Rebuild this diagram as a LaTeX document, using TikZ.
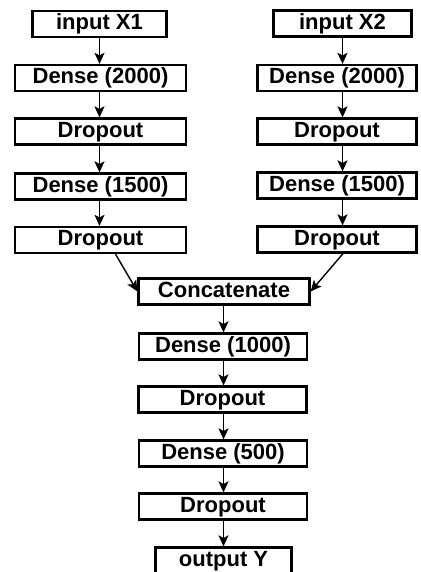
\documentclass[tikz,border=0pt]{standalone}
\usepackage{fontspec}
\setmainfont{Liberation Sans}
\usetikzlibrary{arrows.meta}
\begin{document}
\begin{tikzpicture}[x=1pt,y=-1pt,
  box/.style={draw, line width=2.2pt, inner sep=0pt, minimum height=26pt,
    text height=16pt, text depth=4.5pt,
    font=\bfseries\fontsize{22}{23}\selectfont},
  arr/.style={line width=1.4pt, -{Stealth[length=11pt,width=10pt,inset=2.5pt]}}]
\useasboundingbox (0,0) rectangle (420,572);
% left column
\node[box, minimum width=134pt] (lin) at (99.5,24) {input X1};
\node[box, minimum width=171pt] (l1) at (100.5,78) {Dense (2000)};
\node[box, minimum width=171pt] (l2) at (100.5,131.5) {Dropout};
\node[box, minimum width=171pt] (l3) at (100.5,186.5) {Dense (1500)};
\node[box, minimum width=171pt] (l4) at (100.5,240) {Dropout};
% right column
\node[box, minimum width=138pt] (rin) at (342.5,23.5) {input X2};
\node[box, minimum width=159pt] (r1) at (337,78) {Dense (2000)};
\node[box, minimum width=159pt] (r2) at (337,131.5) {Dropout};
\node[box, minimum width=159pt] (r3) at (337,185.5) {Dense (1500)};
\node[box, minimum width=159pt] (r4) at (337,239.5) {Dropout};
% centre column
\node[box, minimum width=171pt] (c0) at (224,291.5) {Concatenate};
\node[box, minimum width=168pt] (c1) at (223,346.5) {Dense (1000)};
\node[box, minimum width=168pt] (c2) at (222.5,399.5) {Dropout};
\node[box, minimum width=168pt] (c3) at (223,453.5) {Dense (500)};
\node[box, minimum width=168pt] (c4) at (223,506.5) {Dropout};
\node[box, minimum width=136pt] (out) at (223.5,560.5) {output Y};
% arrows left
\draw[arr] (lin.south) -- (lin.south |- l1.north);
\draw[arr] (lin.south |- l1.south) -- (lin.south |- l2.north);
\draw[arr] (lin.south |- l2.south) -- (lin.south |- l3.north);
\draw[arr] (lin.south |- l3.south) -- (lin.south |- l4.north);
% arrows right
\draw[arr] (rin.south) -- (rin.south |- r1.north);
\draw[arr] (rin.south |- r1.south) -- (rin.south |- r2.north);
\draw[arr] (rin.south |- r2.south) -- (rin.south |- r3.north);
\draw[arr] (rin.south |- r3.south) -- (rin.south |- r4.north);
% merge
\draw[arr] ([xshift=15pt]l4.south) -- (c0.west);
\draw[arr] ([xshift=6pt]r4.south) -- (c0.east);
% arrows centre
\draw[arr] (out.north |- c0.south) -- (out.north |- c1.north);
\draw[arr] (out.north |- c1.south) -- (out.north |- c2.north);
\draw[arr] (out.north |- c2.south) -- (out.north |- c3.north);
\draw[arr] (out.north |- c3.south) -- (out.north |- c4.north);
\draw[arr] (out.north |- c4.south) -- (out.north);
\end{tikzpicture}
\end{document}
